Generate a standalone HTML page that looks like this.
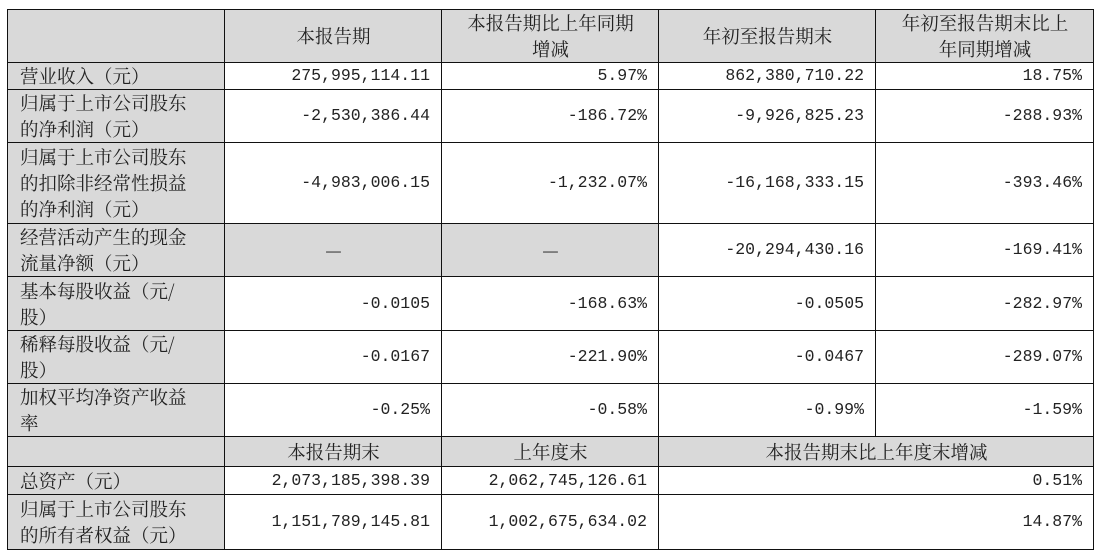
<!DOCTYPE html>
<html><head><meta charset="utf-8"><style>
body{margin:0;background:#fff;width:1101px;height:553px;overflow:hidden}
table{position:absolute;left:7px;top:9px;border-collapse:collapse;table-layout:fixed;width:1086px;font-family:"Noto Serif CJK SC","Liberation Serif",serif;font-size:18.5px;color:#222}
td{border:1.5px solid #111;padding:0 11px 0 12px;line-height:26px;overflow:hidden;white-space:nowrap}
.g{background:#d9d9d9}
.c{text-align:center}
.n{text-align:right;font-family:"Liberation Mono","Noto Serif CJK SC",monospace;font-size:16.5px}
.l{text-align:left}
</style></head><body>
<table>
<colgroup><col style="width:217px"><col style="width:217px"><col style="width:217px"><col style="width:217px"><col style="width:218px"></colgroup>
<tr style="height:53px"><td class="g"></td><td class="g c">本报告期</td><td class="g c">本报告期比上年同期<br>增减</td><td class="g c">年初至报告期末</td><td class="g c">年初至报告期末比上<br>年同期增减</td></tr>
<tr style="height:27px"><td class="g l">营业收入（元）</td><td class="n">275,995,114.11</td><td class="n">5.97%</td><td class="n">862,380,710.22</td><td class="n">18.75%</td></tr>
<tr style="height:52px"><td class="g l">归属于上市公司股东<br>的净利润（元）</td><td class="n">-2,530,386.44</td><td class="n">-186.72%</td><td class="n">-9,926,825.23</td><td class="n">-288.93%</td></tr>
<tr style="height:81px"><td class="g l">归属于上市公司股东<br>的扣除非经常性损益<br>的净利润（元）</td><td class="n">-4,983,006.15</td><td class="n">-1,232.07%</td><td class="n">-16,168,333.15</td><td class="n">-393.46%</td></tr>
<tr style="height:53px"><td class="g l">经营活动产生的现金<br>流量净额（元）</td><td class="g c">—</td><td class="g c">—</td><td class="n">-20,294,430.16</td><td class="n">-169.41%</td></tr>
<tr style="height:54px"><td class="g l">基本每股收益（元/<br>股）</td><td class="n">-0.0105</td><td class="n">-168.63%</td><td class="n">-0.0505</td><td class="n">-282.97%</td></tr>
<tr style="height:53px"><td class="g l">稀释每股收益（元/<br>股）</td><td class="n">-0.0167</td><td class="n">-221.90%</td><td class="n">-0.0467</td><td class="n">-289.07%</td></tr>
<tr style="height:53px"><td class="g l">加权平均净资产收益<br>率</td><td class="n">-0.25%</td><td class="n">-0.58%</td><td class="n">-0.99%</td><td class="n">-1.59%</td></tr>
<tr style="height:30px"><td class="g"></td><td class="g c">本报告期末</td><td class="g c">上年度末</td><td class="g c" colspan="2">本报告期末比上年度末增减</td></tr>
<tr style="height:28px"><td class="g l">总资产（元）</td><td class="n">2,073,185,398.39</td><td class="n">2,062,745,126.61</td><td class="n" colspan="2">0.51%</td></tr>
<tr style="height:55px"><td class="g l">归属于上市公司股东<br>的所有者权益（元）</td><td class="n">1,151,789,145.81</td><td class="n">1,002,675,634.02</td><td class="n" colspan="2">14.87%</td></tr>
</table>
</body></html>
